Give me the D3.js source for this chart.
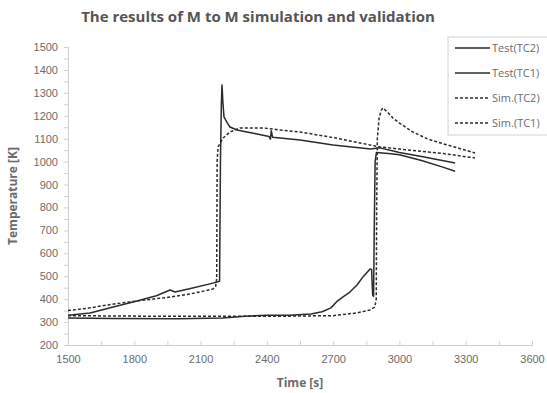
<!DOCTYPE html>
<html>
<head>
<meta charset="utf-8">
<script src="https://cdn.jsdelivr.net/npm/d3@7"></script>
<style>
  body { margin: 0; background: #fff; }
  svg { font-family: "Open Sans", "Noto Sans", sans-serif; }
</style>
</head>
<body>
<svg width="547" height="393"></svg>
<script>
// [time s, temperature K]
var testTC2 = [[1500, 330], [1600, 340], [1700, 365], [1812, 392], [1900, 415], [1962, 440], [1984, 431],
    [2050, 445], [2156, 470], [2186, 478], [2190, 1000], [2194, 1250], [2197, 1334], [2201, 1260],
    [2206, 1195], [2220, 1170], [2233, 1151], [2265, 1138], [2350, 1122], [2410, 1110], [2416, 1098],
    [2420, 1135], [2426, 1106], [2550, 1094], [2700, 1072], [2870, 1055], [2912, 1060], [3000, 1040],
    [3100, 1022], [3252, 994]];
var testTC1 = [[1500, 318], [1700, 316], [2000, 315], [2200, 318], [2300, 325], [2400, 330], [2500, 330],
    [2600, 335], [2650, 345], [2690, 362], [2716, 389], [2745, 410], [2776, 431], [2808, 462],
    [2835, 497], [2867, 532], [2874, 530], [2879, 418], [2883, 412], [2886, 700], [2890, 1000],
    [2896, 1040], [2950, 1035], [3000, 1030], [3100, 1005], [3200, 975], [3252, 958]];
var simTC2 = [[1500, 350], [1600, 362], [1700, 378], [1812, 392], [1900, 402], [1962, 409], [2050, 422],
    [2156, 444], [2168, 455], [2173, 490], [2175, 1000], [2179, 1064], [2202, 1103], [2233, 1129],
    [2278, 1147], [2383, 1147], [2460, 1138], [2550, 1129], [2700, 1105], [2912, 1064], [3000, 1055],
    [3200, 1035], [3342, 1016]];
var simTC1 = [[1500, 328], [1800, 326], [2000, 325], [2400, 325], [2700, 328], [2808, 340], [2867, 353],
    [2889, 366], [2895, 400], [2897, 800], [2900, 1100], [2908, 1190], [2918, 1225], [2926, 1234],
    [2950, 1212], [2971, 1190], [3000, 1168], [3061, 1129], [3130, 1098], [3215, 1073], [3342, 1038]];

var seriesNames = ["Test(TC2)", "Test(TC1)", "Sim.(TC2)", "Sim.(TC1)"];
var seriesData = [testTC2, testTC1, simTC2, simTC1];
var seriesDash = [null, null, "3,2", "3,2"];

var xTicks = [1500, 1800, 2100, 2400, 2700, 3000, 3300, 3600];
var yTicks = [200, 300, 400, 500, 600, 700, 800, 900, 1000, 1100, 1200, 1300, 1400, 1500];

var svg = d3.select("svg"),
    margin = { top: 47, right: 15, bottom: 48, left: 68 },
    width = +svg.attr("width"),
    height = +svg.attr("height");

var x = d3.scaleLinear().domain([1500, 3600]).range([margin.left, width - margin.right]);
var y = d3.scaleLinear().domain([200, 1500]).range([height - margin.bottom, margin.top]);

var axisColor = "#d0d0d0", textColor = "#6b6b6b";

// minor ticks
svg.append("g")
    .attr("transform", "translate(0," + y(200) + ")")
    .call(d3.axisBottom(x).tickValues(d3.range(1500, 3601, 150)).tickSize(-4).tickFormat(""))
    .call(function (g) { g.selectAll("line,path").attr("stroke", axisColor); });
svg.append("g")
    .attr("transform", "translate(" + x(1500) + ",0)")
    .call(d3.axisLeft(y).tickValues(d3.range(200, 1501, 50)).tickSize(4).tickFormat(""))
    .call(function (g) { g.selectAll("line,path").attr("stroke", axisColor); });

// labelled axes
svg.append("g")
    .attr("transform", "translate(0," + y(200) + ")")
    .call(d3.axisBottom(x).tickValues(xTicks).tickSize(0).tickPadding(10).tickFormat(d3.format("d")))
    .call(function (g) {
        g.select(".domain").remove();
        g.selectAll("text").attr("fill", textColor).attr("font-size", 11);
    });
svg.append("g")
    .attr("transform", "translate(" + x(1500) + ",0)")
    .call(d3.axisLeft(y).tickValues(yTicks).tickSize(0).tickPadding(10).tickFormat(d3.format("d")))
    .call(function (g) {
        g.select(".domain").remove();
        g.selectAll("text").attr("fill", textColor).attr("font-size", 11);
    });

// lines
var line = d3.line()
    .x(function (d) { return x(d[0]); })
    .y(function (d) { return y(d[1]); });

svg.append("g").selectAll("path")
    .data(seriesData)
    .enter().append("path")
    .attr("fill", "none")
    .attr("stroke", "#2b2b2b")
    .attr("stroke-width", 1.5)
    .attr("stroke-linejoin", "round")
    .attr("stroke-dasharray", function (d, i) { return seriesDash[i]; })
    .attr("d", line);

// title + axis titles
svg.append("text")
    .attr("x", 258).attr("y", 22)
    .attr("text-anchor", "middle")
    .attr("font-size", 15).attr("font-weight", "bold")
    .attr("fill", "#555")
    .text("The results of M to M simulation and validation");

svg.append("text")
    .attr("x", (x(1500) + x(3600)) / 2).attr("y", 387)
    .attr("text-anchor", "middle")
    .attr("font-size", 12).attr("font-weight", "bold")
    .attr("fill", textColor)
    .text("Time [s]");

svg.append("text")
    .attr("transform", "translate(17," + ((y(200) + y(1500)) / 2) + ") rotate(-90)")
    .attr("text-anchor", "middle")
    .attr("font-size", 12).attr("font-weight", "bold")
    .attr("fill", textColor)
    .text("Temperature [K]");

// legend
var legend = svg.append("g").attr("transform", "translate(448,37)");
legend.append("rect")
    .attr("width", 115).attr("height", 98)
    .attr("fill", "#fff").attr("stroke", axisColor);
var item = legend.selectAll("g.item")
    .data(seriesNames)
    .enter().append("g")
    .attr("class", "item")
    .attr("transform", function (d, i) { return "translate(0," + (11 + i * 25) + ")"; });
item.append("line")
    .attr("x1", 7).attr("x2", 42)
    .attr("stroke", "#2b2b2b").attr("stroke-width", 1.5)
    .attr("stroke-dasharray", function (d, i) { return seriesDash[i]; });
item.append("text")
    .attr("x", 44).attr("dy", "0.35em")
    .attr("font-size", 11).attr("fill", textColor)
    .text(function (d) { return d; });
</script>
</body>
</html>
